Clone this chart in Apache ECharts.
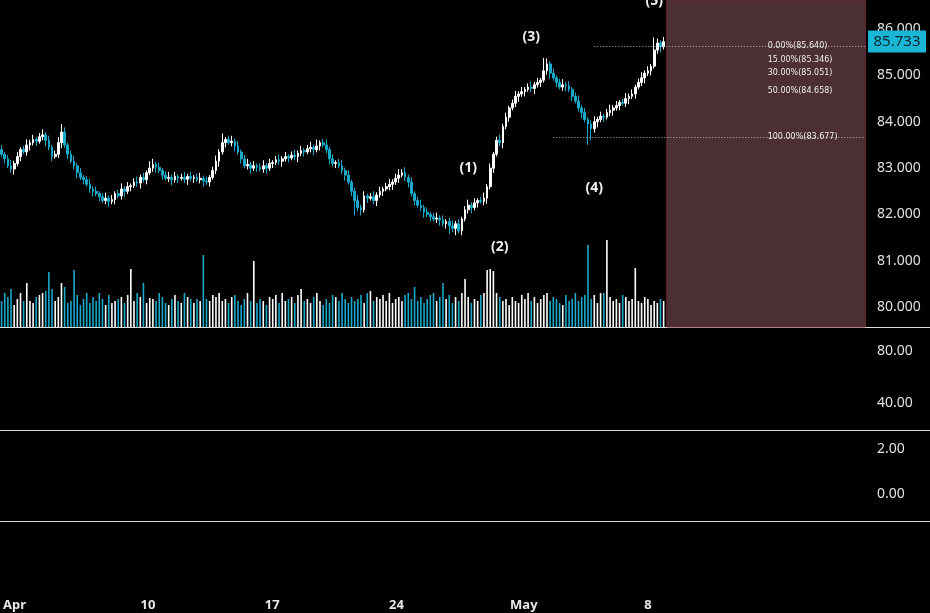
<!DOCTYPE html>
<html><head><meta charset="utf-8">
<script src="https://cdn.jsdelivr.net/npm/echarts@6/dist/echarts.min.js"></script>
<style>html,body{margin:0;padding:0;background:#000}#c{width:930px;height:613px}</style>
</head><body><div id="c"></div>
<script>
const closes = [83.30,83.20,83.05,82.98,83.10,83.25,83.40,83.35,83.50,83.55,83.62,83.58,83.68,83.72,83.60,83.45,83.25,83.30,83.55,83.78,83.50,
83.30,83.15,83.05,82.90,82.80,82.75,82.65,82.55,82.50,82.45,82.38,82.30,82.35,82.28,82.32,82.45,82.40,82.55,82.50,82.60,
82.62,82.70,82.68,82.80,82.75,82.90,83.00,83.08,83.02,82.95,82.85,82.78,82.80,82.75,82.82,82.78,82.80,82.76,82.82,82.78,
82.80,82.75,82.78,82.72,82.70,82.80,82.95,83.15,83.35,83.55,83.62,83.55,83.58,83.48,83.35,83.20,83.05,83.08,83.00,83.05,
83.02,82.98,83.05,83.00,83.10,83.12,83.18,83.15,83.20,83.25,83.22,83.28,83.25,83.32,83.38,83.35,83.42,83.45,83.40,83.48,
83.55,83.50,83.40,83.20,83.10,83.12,83.05,82.95,82.85,82.70,82.50,82.30,82.15,82.10,82.40,82.35,82.38,82.30,82.42,82.50,
82.55,82.60,82.65,82.70,82.78,82.85,82.90,82.80,82.70,82.45,82.30,82.20,82.15,82.05,82.00,81.95,81.90,81.92,81.88,81.80,
81.85,81.75,81.70,81.80,81.65,81.90,82.10,82.20,82.15,82.25,82.30,82.28,82.35,82.60,83.00,83.30,83.60,83.55,83.90,84.10,
84.30,84.40,84.55,84.60,84.65,84.70,84.75,84.72,84.80,84.85,84.90,85.10,85.25,85.05,84.95,84.85,84.75,84.80,84.78,84.70,
84.55,84.45,84.30,84.20,84.05,83.95,83.85,84.00,84.05,84.12,84.10,84.20,84.25,84.30,84.35,84.42,84.40,84.50,84.55,84.60,
84.75,84.85,84.95,85.05,85.10,85.20,85.55,85.70,85.62,85.73];
const firstOpen = 83.40;
const wickUp = [0.10,0.05,0.08,0.12,0.06];
const wickDn = [0.06,0.10,0.05,0.08,0.12];
const extremeHighs = {19:83.95, 47:83.15, 70:83.75, 100:83.62, 126:82.98, 172:85.38, 207:85.82, 208:85.80};
const extremeLows = {112:81.98, 142:81.58, 144:81.55, 186:83.50, 187:83.60};
const volumes = [26,34,30,38,22,28,34,26,44,26,24,30,32,34,36,55,38,26,30,44,40,
24,26,57,32,22,28,34,24,30,26,34,28,22,32,24,26,28,30,24,32,
58,26,34,30,44,24,29,28,26,34,30,24,22,28,32,26,24,34,30,28,
24,28,26,72,28,26,32,30,34,26,28,24,30,32,26,22,28,34,26,66,
24,28,26,22,30,28,32,24,34,26,28,30,24,32,38,26,28,24,30,34,
26,22,28,24,32,30,26,34,28,24,30,26,28,32,24,34,36,26,30,28,
32,26,34,24,28,30,26,32,34,28,40,26,30,24,28,32,34,26,30,44,
28,32,24,30,26,34,48,30,24,28,26,32,34,57,58,56,34,30,26,28,
22,30,26,24,32,28,34,26,30,24,28,32,34,26,30,28,24,22,32,26,
28,34,26,30,32,82,28,32,24,34,34,87,30,26,28,24,32,30,26,28,
59,26,24,30,28,22,26,24,28,26,30];
const dayLabels = {0:'Apr',43:'10',83:'17',123:'24',164:'May',204:'8'};
const totalSlots = 275;
const priceTicks = [80,81,82,83,84,85,86];
const fibLevels = [['0.00%',85.640],['15.00%',85.346],['30.00%',85.051],['50.00%',84.658],['100.00%',83.677]];
const lastPrice = 85.733;
const waves = [['(1)',148,83.0],['(2)',158,81.29],['(3)',168,85.83],['(4)',188,82.57],['(5)',207,86.60]];

const UP='#ffffff', DN='#1aa9c8';
const cats=[]; for(let i=0;i<totalSlots;i++) cats.push(String(i));
const ohlc=[], vols=[];
closes.forEach((c,i)=>{
  const o = i===0?firstOpen:closes[i-1];
  let h=Math.max(o,c)+wickUp[i%5], l=Math.min(o,c)-wickDn[i%5];
  if(extremeHighs[i]!==undefined) h=extremeHighs[i];
  if(extremeLows[i]!==undefined) l=extremeLows[i];
  ohlc.push([o,c,l,h]);
  vols.push({value:volumes[i],itemStyle:{color:c>=o?UP:DN}});
});
const chart=echarts.init(document.getElementById('c'));
const ax = {show:true,position:'right',axisLine:{show:false},axisTick:{show:false},splitLine:{show:false}};
const lblStyle={color:'#e0e0e0',fontSize:14,fontFamily:'Noto Sans',margin:10};
const xBase = {type:'category',data:cats,boundaryGap:true,axisLine:{show:false},axisTick:{show:false},axisLabel:{show:false},splitLine:{show:false}};
chart.setOption({
  backgroundColor:'#000',
  animation:false,
  grid:[
    {left:0,right:63,top:0,height:327},
    {left:0,right:63,top:227,height:100},
    {left:0,right:63,top:328,height:102},
    {left:0,right:63,top:431,height:90},
    {left:0,right:63,top:522,height:68}
  ],
  xAxis:[0,1,2,3,4].map(g=>Object.assign({},xBase,{gridIndex:g},
    g===4?{axisLabel:{show:true,interval:0,color:'#e8e8e8',fontSize:13,fontWeight:'bold',fontFamily:'Noto Sans',margin:9,
      formatter:(v)=>dayLabels[v]||''}}:{})),
  yAxis:[
    Object.assign({},ax,{gridIndex:0,min:79.57,max:86.63,axisLabel:Object.assign({},lblStyle,{customValues:priceTicks,formatter:v=>v.toFixed(3)})}),
    {gridIndex:1,min:0,max:100,show:false},
    Object.assign({},ax,{gridIndex:2,min:19.2,max:97.7,axisLabel:Object.assign({},lblStyle,{customValues:[40,80],formatter:v=>v.toFixed(2)})}),
    Object.assign({},ax,{gridIndex:3,min:-1.2,max:2.8,axisLabel:Object.assign({},lblStyle,{customValues:[0,2],formatter:v=>v.toFixed(2)})}),
    {gridIndex:4,show:false}
  ],
  series:[
    {type:'bar',xAxisIndex:1,yAxisIndex:1,data:vols,barWidth:1.6,z:1},
    {type:'candlestick',xAxisIndex:0,yAxisIndex:0,data:ohlc,barWidth:2.2,z:3,
      itemStyle:{color:UP,color0:DN,borderColor:UP,borderColor0:DN,borderWidth:1},
      markArea:{silent:true,itemStyle:{color:'#4b2f33',borderColor:'#6a2a30',borderWidth:1},
        data:[[{xAxis:String(closes.length)},{xAxis:String(totalSlots-1)}]]},
      markLine:{silent:true,symbol:'none',label:{show:false},
        data:[
          [{coord:['188',85.640],lineStyle:{color:'#bbb',type:[1,2],width:1}},{coord:[String(totalSlots-1),85.640]}],
          [{coord:['175',83.677],lineStyle:{color:'#bbb',type:[1,2],width:1}},{coord:[String(totalSlots-1),83.677]}]
        ]},
      markPoint:{silent:true,symbol:'circle',symbolSize:0,
        data:[
          ...waves.map(w=>({coord:[String(w[1]),w[2]],label:{show:true,formatter:w[0],color:'#f0f0f0',fontSize:14,fontWeight:'bold',fontFamily:'Noto Sans'}})),
          ...fibLevels.map(f=>({coord:['243',f[1]],label:{show:true,position:'right',distance:0,formatter:f[0]+'('+f[1].toFixed(3)+')',color:'#eee',fontSize:8,fontFamily:'DejaVu Sans'}}))
        ]}
    }
  ]
});
const py = chart.convertToPixel({yAxisIndex:0}, lastPrice);
chart.setOption({graphic:[
  {type:'line',shape:{x1:0,y1:327.5,x2:930,y2:327.5},style:{stroke:'#ddd',lineWidth:1}},
  {type:'line',shape:{x1:0,y1:430.5,x2:930,y2:430.5},style:{stroke:'#ddd',lineWidth:1}},
  {type:'line',shape:{x1:0,y1:521.5,x2:930,y2:521.5},style:{stroke:'#ddd',lineWidth:1}},
  {type:'rect',shape:{x:868,y:py-11,width:58,height:22},style:{fill:'#1ab6d6'},z:10},
  {type:'text',x:897,y:py,style:{text:lastPrice.toFixed(3),fill:'#0b2730',font:'15px "Noto Sans"',align:'center',verticalAlign:'middle'},z:11}
]});
</script></body></html>
